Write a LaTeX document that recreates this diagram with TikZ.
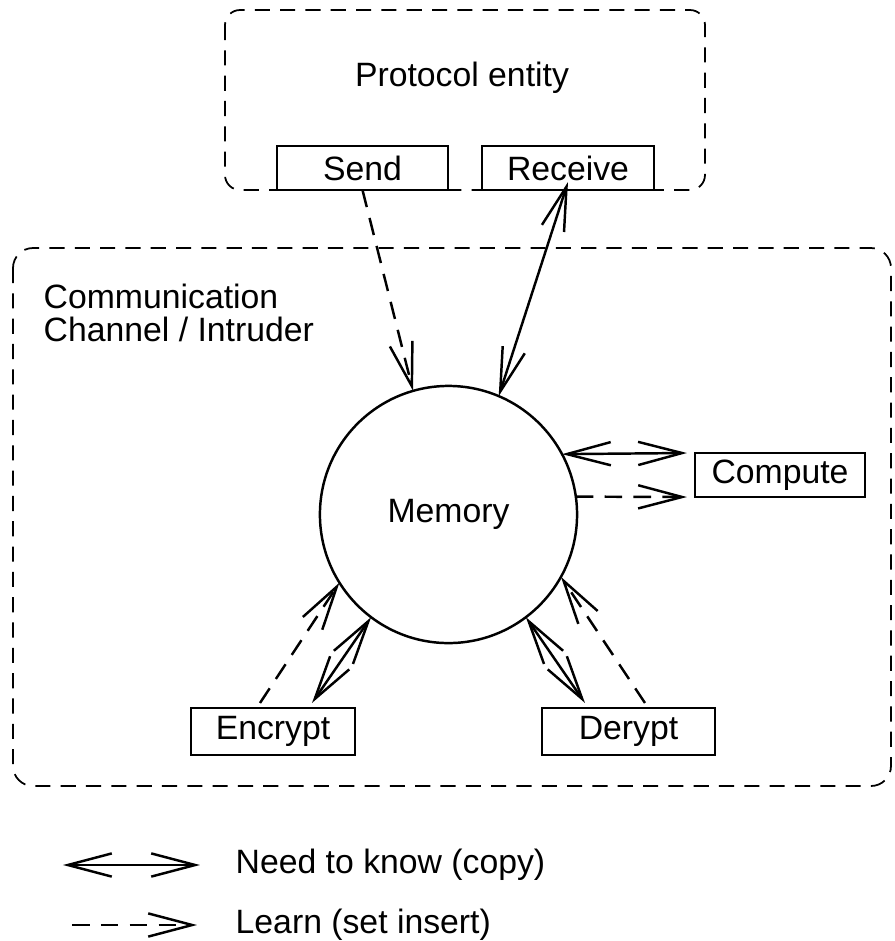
\documentclass[tikz,border=0pt]{standalone}
\usepackage{fontspec}
\setmainfont{Liberation Sans}
\usetikzlibrary{arrows.meta}
\usetikzlibrary{calc}
\tikzset{lbl/.style={font=\fontsize{9.6}{9.4}\selectfont}}
\tikzset{
opbox/.style={draw, line width=0.7pt, fill=white, inner sep=0pt, outer sep=0pt, minimum height=0.44cm, lbl},
area/.style={draw, line width=0.5pt, dash pattern=on 4.3pt off 2.9pt},
need/.style={line width=0.7pt, {Straight Barb[length=12.5pt,width=6.6pt]}-{Straight Barb[length=12.5pt,width=6.6pt]}},
learn/.style={line width=0.7pt, dash pattern=on 5pt off 3.2pt, -{Straight Barb[length=12.5pt,width=6.6pt]}}
}

\begin{document}
\begin{tikzpicture}[x=0.01cm, y=-0.01cm]
    \useasboundingbox (0,0) rectangle (895,941);
    % the two regions
    \draw[area, rounded corners=0.15cm] (225,10) rectangle (705,190);
    \draw[area, rounded corners=0.2cm] (13,248) rectangle (891,786);
    \node[lbl] (entity) at (462,78) {Protocol entity};
    \node[lbl, align=left, anchor=north west, inner sep=0pt] (channel) at (43,283) {Communication\\Channel / Intruder};
    % boxes
    \node[opbox, minimum width=1.71cm] (send) at (362.5,168) {Send};
    \node[opbox, minimum width=1.72cm] (receive) at (568,168) {Receive};
    \node[draw, circle, line width=0.7pt, minimum size=2.57cm, inner sep=0pt, outer sep=0pt, lbl] (memory) at (448.5,514.5) {Memory};
    \node[opbox, minimum width=1.70cm] (compute) at (780,475) {Compute};
    \node[opbox, minimum width=1.64cm, minimum height=0.47cm] (encrypt) at (273,731.5) {Encrypt};
    \node[opbox, minimum width=1.73cm, minimum height=0.47cm] (derypt) at (628.5,731.5) {Derypt};
    % connectors
    \draw[learn] (send.south) -- (memory.106);
    \draw[need] ($(receive.south)+(0,-8)$) -- (memory.67);
    \draw[need] (memory.28) -- ($(compute.north west)+(-8,0)$);
    \draw[learn] (memory.8) -- ($(compute.south west)+(-8,0)$);
    \draw[learn] ($(encrypt.north)+(-13,-5)$) -- (memory.212);
    \draw[need] ($(encrypt.north)+(39,-5)$) -- (memory.233);
    \draw[need] (memory.307) -- ($(derypt.north)+(-43.5,-5)$);
    \draw[learn] ($(derypt.north)+(16.5,-5)$) -- (memory.331);
    % legend
    \coordinate (needA) at (63,865);
    \coordinate (needB) at (200,865);
    \coordinate (learnA) at (72,925);
    \coordinate (learnB) at (197,925);
    \draw[need] (needA) -- (needB);
    \draw[learn] (learnA) -- (learnB);
    \node[lbl, anchor=west, inner sep=0pt] (needtxt) at (235,865) {Need to know (copy)};
    \node[lbl, anchor=west, inner sep=0pt] (learntxt) at (235,925) {Learn (set insert)};
\end{tikzpicture}
\end{document}
